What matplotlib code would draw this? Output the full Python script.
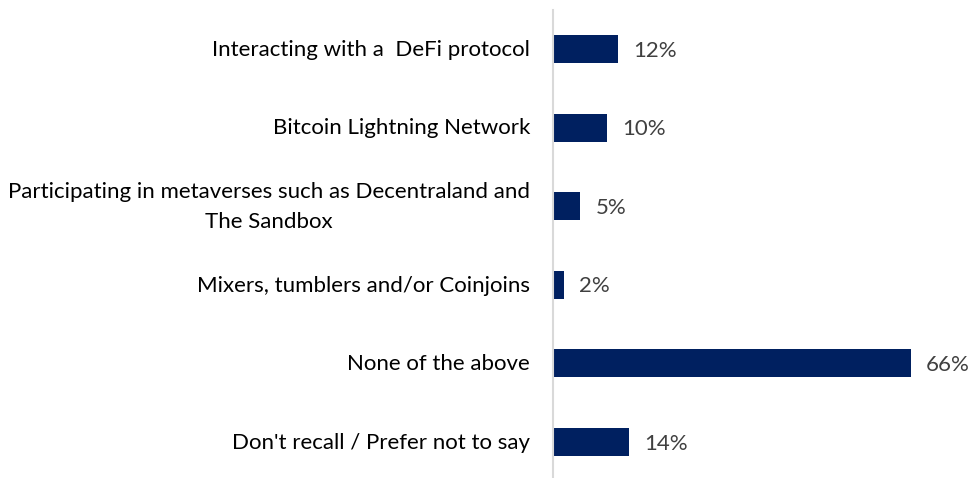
import matplotlib
matplotlib.use("Agg")
import matplotlib.pyplot as plt
from matplotlib.transforms import offset_copy

categories = [
    "Interacting with a  DeFi protocol",
    "Bitcoin Lightning Network",
    "Participating in metaverses such as Decentraland and\nThe Sandbox",
    "Mixers, tumblers and/or Coinjoins",
    "None of the above",
    "Don't recall / Prefer not to say",
]
values = [12, 10, 5, 2, 66, 14]

W, H = 971, 478
fig = plt.figure(figsize=(W / 100, H / 100), dpi=100)
ax = fig.add_axes([553 / W, 0, 379.6 / W, 1 - 9.7 / H])

font = "Lato"
fs = 16
ypos = list(range(len(categories)))
ax.barh(ypos, values, height=0.356, color="#002060")
ax.set_xlim(0, 70)
ax.set_ylim(5.458, -0.5)

for y, v in zip(ypos, values):
    ax.text(v + 2.8, y + 0.02, f"{v}%", va="center", ha="left",
            fontsize=fs, color="#404040", family=font)

# category labels, right-aligned left of the axis, centred line by line
label_tf = offset_copy(ax.get_yaxis_transform(), fig=fig, x=-23, y=0, units="dots")
for y, cat in zip(ypos, categories):
    ax.text(0, y + 0.01, cat, transform=label_tf, ha="right", va="center",
            multialignment="center", linespacing=1.6,
            fontsize=fs, color="#000000", family=font)

ax.set_yticks([])
ax.set_xticks([])

for s in ["top", "right", "bottom"]:
    ax.spines[s].set_visible(False)
ax.spines["left"].set_color("#d9d9d9")
ax.spines["left"].set_linewidth(1.5)

fig.savefig("out.png", dpi=100)
